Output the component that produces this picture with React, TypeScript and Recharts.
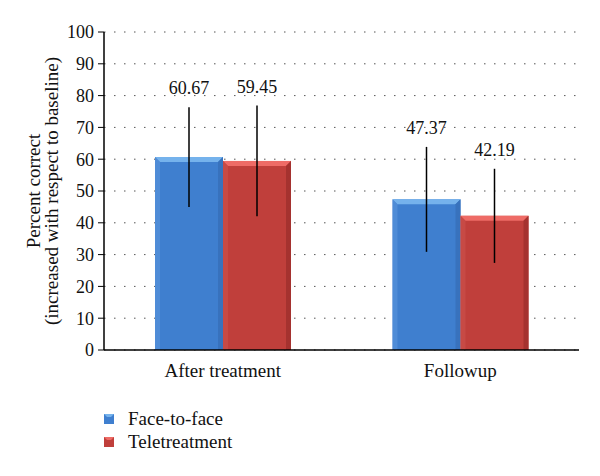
import React from 'react';
import { BarChart, Bar, XAxis, YAxis, CartesianGrid, ErrorBar, LabelList, Legend, Label } from 'recharts';

const categories = ['After treatment', 'Followup'];
const faceToFace = [60.67, 47.37];
const teletreatment = [59.45, 42.19];
const faceToFaceError = [15.7, 16.5];
const teletreatmentError = [17.4, 14.8];
const yTicks = [0, 10, 20, 30, 40, 50, 60, 70, 80, 90, 100];
const seriesNames = ['Face-to-face', 'Teletreatment'];

const data = categories.map((c, i) => ({
  category: c,
  face: faceToFace[i],
  tele: teletreatment[i],
  faceErr: faceToFaceError[i],
  teleErr: teletreatmentError[i],
}));

const FONT = "'Liberation Serif', 'Times New Roman', Times, serif";

const COLORS = {
  face: { main: '#3f7fcf', top: '#75b2ec', left: '#5a95dc', right: '#3872bd' },
  tele: { main: '#c03f3b', top: '#ee6b66', left: '#cc514d', right: '#a5322f' },
};

const makeShape = (c: { main: string; top: string; left: string; right: string }) => (props: any) => {
  const { x, y, width, height } = props;
  if (!height || height <= 0) return null;
  const b = 5;
  return (
    <g>
      <rect x={x} y={y} width={width} height={height} fill={c.main} />
      <polygon points={`${x},${y} ${x + width},${y} ${x + width - b},${y + b} ${x + b},${y + b}`} fill={c.top} />
      <polygon points={`${x},${y} ${x + b},${y + b} ${x + b},${y + height} ${x},${y + height}`} fill={c.left} opacity={0.6} />
      <polygon points={`${x + width},${y} ${x + width - b},${y + b} ${x + width - b},${y + height} ${x + width},${y + height}`} fill={c.right} />
    </g>
  );
};

const makeValueLabel = (errs: number[]) => (props: any) => {
  const { x, y, width, height, value, index } = props;
  const pxPerUnit = height / value;
  const errTop = y - errs[index] * pxPerUnit;
  return (
    <text
      x={x + width / 2}
      y={errTop - 19}
      textAnchor="middle"
      dominantBaseline="central"
      style={{ fontFamily: FONT, fontSize: 18 }}
      fill="#111"
    >
      {value.toFixed(2)}
    </text>
  );
};

const YLabel = (props: any) => {
  const { viewBox } = props;
  const cy = viewBox.y + viewBox.height / 2;
  return (
    <g>
      <text x={33} y={cy} transform={`rotate(-90, 33, ${cy})`} textAnchor="middle" dominantBaseline="central" style={{ fontFamily: FONT, fontSize: 19 }} fill="#111">
        Percent correct
      </text>
      <text x={51} y={cy} transform={`rotate(-90, 51, ${cy})`} textAnchor="middle" dominantBaseline="central" style={{ fontFamily: FONT, fontSize: 19 }} fill="#111">
        (increased with respect to baseline)
      </text>
    </g>
  );
};

const LegendContent = () => (
  <div style={{ fontFamily: FONT, fontSize: 19, color: '#111', lineHeight: '23px' }}>
    {seriesNames.map((n, i) => {
      const c = i === 0 ? COLORS.face : COLORS.tele;
      return (
        <div key={n} style={{ display: 'flex', alignItems: 'center' }}>
          <svg width={12} height={12} style={{ marginRight: 13 }}>
            <rect x={1} y={1} width={10} height={10} fill={c.main} />
            <polygon points="1,1 11,1 8,4 4,4" fill={c.top} />
          </svg>
          <span>{n}</span>
        </div>
      );
    })}
  </div>
);

export default function App() {
  return (
    <div style={{ position: 'absolute', left: 0, top: 0, width: 600, height: 476, background: '#fff' }}>
      <BarChart
        width={600}
        height={476}
        data={data}
        margin={{ top: 32, right: 21, left: 0, bottom: 96 }}
        barCategoryGap={51}
        barGap={0}
        style={{ fontFamily: FONT }}
      >
        <CartesianGrid vertical={false} stroke="#555" strokeDasharray="1.5 8.5" />
        <XAxis
          dataKey="category"
          tickLine={false}
          axisLine={{ stroke: '#000', strokeWidth: 1.5 }}
          tick={{ fontFamily: FONT, fontSize: 19, fill: '#111' }}
          height={30}
          tickMargin={8}
        />
        <YAxis
          width={104}
          domain={[0, 100]}
          ticks={yTicks}
          interval={0}
          axisLine={{ stroke: '#000', strokeWidth: 1.5 }}
          tickLine={{ stroke: '#000' }}
          tickSize={6}
          tickMargin={4}
          tick={{ fontFamily: FONT, fontSize: 18, fill: '#111' }}
        >
          <Label content={<YLabel />} />
        </YAxis>
        <Legend
          layout="vertical"
          align="center"
          verticalAlign="middle"
          content={<LegendContent />}
          wrapperStyle={{ left: 103, top: 407, width: 220, height: 50 }}
        />
        <Bar dataKey="face" name={seriesNames[0]} fill={COLORS.face.main} shape={makeShape(COLORS.face)} isAnimationActive={false}>
          <ErrorBar dataKey="faceErr" width={0} stroke="#000" strokeWidth={1.5} direction="y" />
          <LabelList dataKey="face" content={makeValueLabel(faceToFaceError)} />
        </Bar>
        <Bar dataKey="tele" name={seriesNames[1]} fill={COLORS.tele.main} shape={makeShape(COLORS.tele)} isAnimationActive={false}>
          <ErrorBar dataKey="teleErr" width={0} stroke="#000" strokeWidth={1.5} direction="y" />
          <LabelList dataKey="tele" content={makeValueLabel(teletreatmentError)} />
        </Bar>
      </BarChart>
    </div>
  );
}
